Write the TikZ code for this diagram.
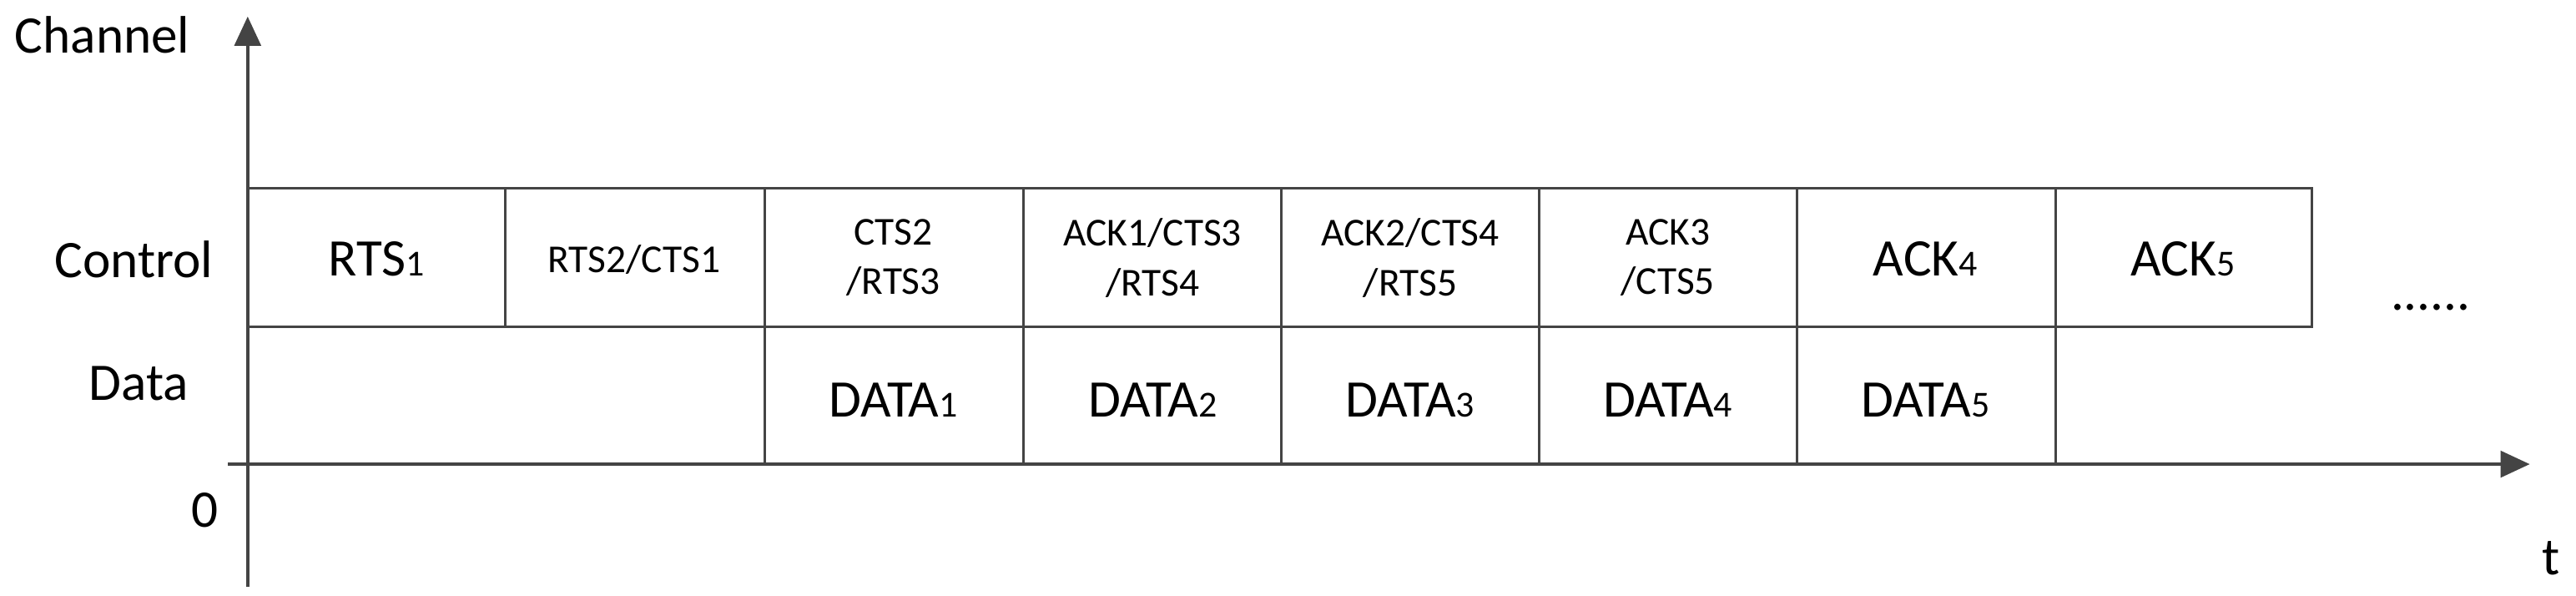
\documentclass[tikz,border=0pt]{standalone}
\usepackage{fontspec}
\setmainfont{Carlito}
\usetikzlibrary{arrows.meta}
\definecolor{ln}{HTML}{444444}
\newcommand{\smsub}[1]{{\fontsize{12.5}{14}\selectfont #1}}
\begin{document}
\begin{tikzpicture}[x=0.0198cm,y=-0.0198cm,
  lab/.style={font=\fontsize{18}{21}\selectfont, inner sep=0pt},
  cell/.style={font=\fontsize{13.5}{17}\selectfont, align=center, inner sep=0pt},
  grid/.style={draw=ln, line width=0.85pt},
  axis/.style={draw=ln, line width=1.1pt, -{Triangle[length=10pt,width=9pt]}}]
\useasboundingbox (0,0) rectangle (1560,360.8);
% axes
\coordinate (yb) at (150,355);
\coordinate (yt) at (150,10);
\coordinate (xl) at (138,281);
\coordinate (xr) at (1532,281);
\draw[axis] (yb) -- (yt);
\draw[axis] (xl) -- (xr);
% grid
\draw[grid] (150,114) -- (1400,114) -- (1400,198) -- (150,198);
\foreach \x in {306,463,620,776,932,1088,1245} \draw[grid] (\x,114) -- (\x,198);
\foreach \x in {463,620,776,932,1088,1245} \draw[grid] (\x,198) -- (\x,281);
% labels
\node[lab] (ch) at (62,21) {Channel};
\node[lab] (co) at (81,157) {Control};
\node[lab] (da) at (84,232) {Data};
\node[lab] (z) at (124,309) {0};
\node[lab] (t) at (1545,338) {t};
\node[lab] (dots) at (1472,186) {......};
% control cells
\node[lab] (c1) at (228,157) {RTS\smsub{1}};
\node[cell] (c2) at (384,157) {RTS2/CTS1};
\node[cell] (c3) at (541,156) {CTS2\\/RTS3};
\node[cell] (c4) at (698,156) {ACK1/CTS3\\/RTS4};
\node[cell] (c5) at (854,156) {ACK2/CTS4\\/RTS5};
\node[cell] (c6) at (1010,156) {ACK3\\/CTS5};
\node[lab] (c7) at (1166,157) {ACK\smsub{4}};
\node[lab] (c8) at (1322,157) {ACK\smsub{5}};
% data cells
\node[lab] (d1) at (541,242) {DATA\smsub{1}};
\node[lab] (d2) at (698,242) {DATA\smsub{2}};
\node[lab] (d3) at (854,242) {DATA\smsub{3}};
\node[lab] (d4) at (1010,242) {DATA\smsub{4}};
\node[lab] (d5) at (1166,242) {DATA\smsub{5}};
\end{tikzpicture}
\end{document}
